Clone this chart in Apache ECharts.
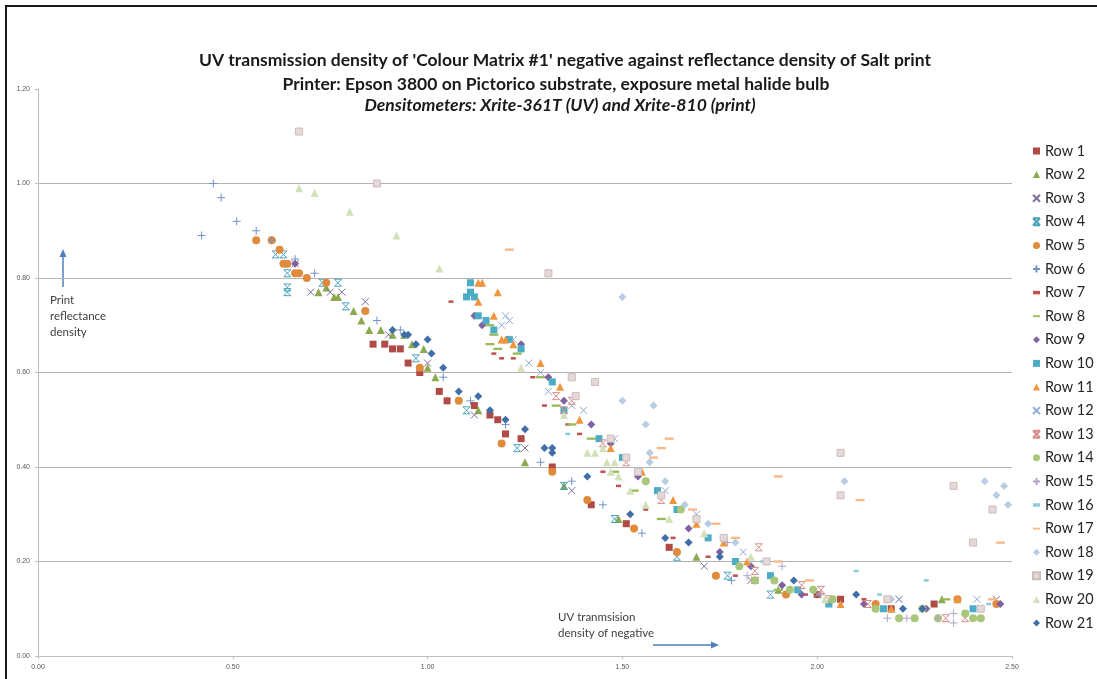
<!DOCTYPE html>
<html>
<head>
<meta charset="utf-8">
<script src="https://cdn.jsdelivr.net/npm/echarts@6/dist/echarts.min.js"></script>
<style>
  html, body { margin: 0; padding: 0; background: #fff; }
  #chart { width: 1097px; height: 679px; }
</style>
</head>
<body>
<div id="chart"></div>
<script>
// UV transmission density of the negative (x) vs. print reflectance density (y), one series per matrix row
const rowNames = ['Row 1','Row 2','Row 3','Row 4','Row 5','Row 6','Row 7','Row 8','Row 9','Row 10','Row 11',
  'Row 12','Row 13','Row 14','Row 15','Row 16','Row 17','Row 18','Row 19','Row 20','Row 21'];

const row1 = [[0.86,0.66],[0.89,0.66],[0.91,0.65],[0.93,0.65],[0.95,0.62],[0.98,0.60],[1.03,0.56],[1.05,0.54],[1.12,0.53],[1.16,0.51],[1.18,0.50],[1.20,0.47],[1.24,0.46],[1.32,0.40],[1.42,0.32],[1.51,0.28],[1.62,0.23],[1.84,0.16],[2.00,0.13],[2.06,0.12],[2.19,0.10],[2.30,0.11]];
const row2 = [[0.72,0.77],[0.74,0.78],[0.76,0.76],[0.77,0.76],[0.81,0.73],[0.83,0.71],[0.85,0.69],[0.88,0.69],[0.91,0.68],[0.94,0.68],[0.96,0.66],[0.99,0.65],[1.00,0.61],[1.02,0.59],[1.13,0.52],[1.25,0.41],[1.35,0.36],[1.49,0.29],[1.69,0.21],[1.90,0.14],[2.32,0.12]];
const row3 = [[0.66,0.83],[0.70,0.77],[0.75,0.77],[0.78,0.77],[0.84,0.75],[0.90,0.68],[1.00,0.62],[1.12,0.51],[1.25,0.44],[1.37,0.35],[1.71,0.19],[1.83,0.16],[2.21,0.12],[2.46,0.12]];
const row4 = [[0.61,0.85],[0.63,0.85],[0.64,0.81],[0.64,0.78],[0.64,0.77],[0.73,0.79],[0.77,0.79],[0.79,0.74],[0.97,0.63],[1.10,0.52],[1.23,0.44],[1.35,0.36],[1.48,0.29],[1.64,0.21],[1.77,0.17],[1.88,0.13]];
const row5 = [[0.56,0.88],[0.60,0.88],[0.62,0.86],[0.63,0.83],[0.64,0.83],[0.66,0.81],[0.67,0.81],[0.69,0.80],[0.74,0.79],[0.84,0.73],[0.98,0.61],[1.08,0.54],[1.19,0.45],[1.32,0.39],[1.41,0.33],[1.53,0.27],[1.64,0.22],[1.74,0.17],[1.92,0.13],[2.15,0.11],[2.36,0.12],[2.46,0.11]];
const row6 = [[0.42,0.89],[0.45,1.00],[0.47,0.97],[0.51,0.92],[0.56,0.90],[0.60,0.88],[0.66,0.84],[0.71,0.81],[0.87,0.71],[0.93,0.69],[1.04,0.59],[1.11,0.54],[1.20,0.49],[1.29,0.41],[1.37,0.37],[1.45,0.32],[1.55,0.26],[1.78,0.16],[1.99,0.14]];
const row7 = [[1.06,0.75],[1.17,0.64],[1.19,0.63],[1.22,0.63],[1.27,0.59],[1.30,0.53],[1.36,0.49],[1.39,0.47],[1.45,0.39],[1.49,0.36],[1.56,0.31],[1.63,0.25],[1.72,0.21],[1.79,0.17],[1.97,0.13],[2.12,0.12]];
const row8 = [[1.16,0.70],[1.17,0.68],[1.16,0.66],[1.18,0.65],[1.23,0.64],[1.29,0.59],[1.33,0.53],[1.37,0.49],[1.42,0.46],[1.48,0.39],[1.53,0.35],[1.60,0.29],[1.90,0.14],[2.33,0.12]];
const row9 = [[0.66,0.83],[1.12,0.72],[1.14,0.70],[1.24,0.66],[1.31,0.59],[1.35,0.54],[1.42,0.49],[1.47,0.45],[1.54,0.38],[1.67,0.27],[1.75,0.22],[1.83,0.19],[1.91,0.15],[1.96,0.13],[2.12,0.11],[2.28,0.10],[2.47,0.11]];
const row10 = [[1.11,0.79],[1.10,0.76],[1.12,0.76],[1.11,0.77],[1.13,0.72],[1.15,0.71],[1.17,0.69],[1.21,0.67],[1.24,0.65],[1.32,0.58],[1.35,0.52],[1.44,0.46],[1.50,0.42],[1.59,0.35],[1.64,0.31],[1.72,0.25],[1.79,0.20],[1.88,0.17],[1.95,0.14],[2.03,0.11],[2.17,0.10],[2.40,0.10]];
const row11 = [[1.13,0.79],[1.14,0.79],[1.13,0.75],[1.18,0.77],[1.17,0.72],[1.19,0.67],[1.20,0.67],[1.22,0.66],[1.29,0.62],[1.34,0.57],[1.39,0.50],[1.47,0.44],[1.55,0.39],[1.63,0.33],[1.69,0.28],[1.76,0.24],[1.82,0.20],[2.06,0.11],[2.19,0.10],[2.36,0.12]];
const row12 = [[1.20,0.72],[1.21,0.71],[1.19,0.70],[1.22,0.67],[1.26,0.62],[1.29,0.60],[1.31,0.56],[1.37,0.53],[1.40,0.52],[1.48,0.46],[1.61,0.35],[1.69,0.30],[1.81,0.22],[1.88,0.13],[2.00,0.13],[2.21,0.12],[2.41,0.12]];
const row13 = [[1.33,0.55],[1.37,0.54],[1.35,0.52],[1.45,0.45],[1.51,0.41],[1.60,0.33],[1.85,0.23],[1.84,0.18],[1.96,0.15],[2.01,0.14],[2.03,0.12],[2.13,0.11],[2.33,0.08],[2.38,0.08]];
const row14 = [[1.56,0.37],[1.65,0.31],[1.80,0.19],[1.84,0.16],[1.89,0.16],[1.93,0.14],[1.99,0.14],[2.04,0.12],[2.15,0.10],[2.21,0.08],[2.25,0.08],[2.27,0.10],[2.31,0.08],[2.38,0.09],[2.40,0.08],[2.42,0.08]];
const row15 = [[1.77,0.24],[1.82,0.17],[1.91,0.19],[2.01,0.13],[2.18,0.08],[2.23,0.08],[2.31,0.08],[2.35,0.09],[2.35,0.07]];
const row16 = [[1.36,0.47],[1.86,0.20],[2.10,0.18],[2.16,0.13],[2.28,0.16],[2.44,0.11]];
const row17 = [[1.21,0.86],[1.58,0.42],[1.60,0.44],[1.62,0.46],[1.68,0.31],[1.74,0.28],[1.79,0.25],[1.90,0.38],[1.90,0.20],[1.98,0.16],[2.11,0.33],[2.47,0.24],[2.45,0.12]];
const row18 = [[1.50,0.76],[1.50,0.54],[1.58,0.53],[1.56,0.49],[1.57,0.43],[1.57,0.41],[1.61,0.37],[1.66,0.32],[1.72,0.28],[1.79,0.24],[2.07,0.37],[2.43,0.37],[2.48,0.36],[2.46,0.34],[2.49,0.32],[2.19,0.12]];
const row19 = [[0.67,1.11],[0.87,1.00],[1.31,0.81],[1.37,0.59],[1.43,0.58],[1.38,0.55],[1.47,0.46],[1.51,0.42],[1.54,0.39],[1.60,0.34],[1.69,0.29],[1.76,0.25],[1.87,0.20],[2.06,0.43],[2.06,0.34],[2.18,0.12],[2.35,0.36],[2.40,0.24],[2.45,0.31],[2.42,0.10]];
const row20 = [[0.67,0.99],[0.71,0.98],[0.80,0.94],[0.92,0.89],[1.03,0.82],[1.24,0.61],[1.35,0.51],[1.41,0.43],[1.43,0.43],[1.45,0.44],[1.46,0.41],[1.48,0.41],[1.47,0.39],[1.49,0.38],[1.52,0.35],[1.56,0.32],[1.62,0.29],[1.71,0.26],[1.83,0.21],[2.02,0.12]];
const row21 = [[0.91,0.69],[0.94,0.68],[0.95,0.68],[0.97,0.66],[1.00,0.67],[1.01,0.64],[1.04,0.61],[1.08,0.56],[1.13,0.55],[1.16,0.52],[1.20,0.50],[1.25,0.48],[1.30,0.44],[1.32,0.44],[1.32,0.43],[1.41,0.38],[1.52,0.30],[1.61,0.25],[1.67,0.24],[1.75,0.21],[1.94,0.16],[2.10,0.13],[2.22,0.10],[2.27,0.10]];

const rows = [row1,row2,row3,row4,row5,row6,row7,row8,row9,row10,row11,row12,row13,row14,row15,row16,row17,row18,row19,row20,row21];

// axis ranges: [min, max, interval]
const xRange = [0, 2.5, 0.5];
const yRange = [0, 1.2, 0.2];

// marker shapes (stroked ones use a border, filled ones use the fill)
const SYM = {
  rect: 'rect', tri: 'triangle', circle: 'circle', diamond: 'diamond',
  x: 'path://M0,0L10,10M10,0L0,10',
  star: 'path://M0,0L10,0M0,10L10,10M0,0L10,10M10,0L0,10',
  plus: 'path://M5,0L5,10M0,5L10,5',
  dash: 'path://M0,0L10,0L10,5L0,5Z',
  longDash: 'path://M0,0L10,0L10,2.6L0,2.6Z'
};
const STYLE = [
  {s:'rect', c:'#B04A45', z:7},
  {s:'tri', c:'#8BAA4E', z:8},
  {s:'x', c:'#7D6E9C', z:7, line:true},
  {s:'star', c:'#47A3BC', z:7, line:true},
  {s:'circle', c:'#E08A3C', z:8},
  {s:'plus', c:'#7292C8', z:8, line:true},
  {s:'dash', c:'#C0504D', z:5},
  {s:'longDash', c:'#9BBB59', z:9},
  {s:'diamond', c:'#7E62A1', z:8},
  {s:'rect', c:'#4BACC6', z:7},
  {s:'tri', c:'#F0953F', z:8},
  {s:'x', c:'#8EAAD8', z:7, line:true},
  {s:'star', c:'#D98C8A', z:7, line:true},
  {s:'circle', c:'#A9C77A', z:8},
  {s:'plus', c:'#B2A4C8', z:8, line:true},
  {s:'dash', c:'#8ECBDB', z:5},
  {s:'longDash', c:'#F8B888', z:9},
  {s:'diamond', c:'#B8CCE4', z:8},
  {s:'rect', c:'#E5D8D8', z:7, border:'#CDBDBD'},
  {s:'tri', c:'#D3E1B8', z:8},
  {s:'diamond', c:'#3F6EA8', z:8}
];

const series = rows.map((data, i) => {
  const st = STYLE[i];
  const itemStyle = { color: st.c, opacity: 1 };
  if (st.line) { itemStyle.borderColor = st.c; itemStyle.borderWidth = 1; }
  if (st.border) { itemStyle.borderColor = st.border; itemStyle.borderWidth = 1; }
  return {
    name: rowNames[i],
    type: 'scatter',
    data: data,
    symbol: SYM[st.s],
    symbolSize: st.z,
    symbolKeepAspect: true,
    itemStyle: itemStyle,
    emphasis: { disabled: true }
  };
});

const blue = '#4F81BD';
const chart = echarts.init(document.getElementById('chart'), null, { renderer: 'canvas' });
chart.setOption({
  animation: false,
  backgroundColor: '#fff',
  grid: { left: 38, right: 85, top: 89, bottom: 23 },
  xAxis: {
    type: 'value', min: xRange[0], max: xRange[1], interval: xRange[2],
    axisLine: { lineStyle: { color: '#BFBFBF', width: 1 } },
    axisTick: { show: true, length: 3, lineStyle: { color: '#BFBFBF' } },
    axisLabel: { fontSize: 7, color: '#595959', fontFamily: 'Liberation Sans', margin: 8, formatter: v => v.toFixed(2) },
    splitLine: { show: false }
  },
  yAxis: {
    type: 'value', min: yRange[0], max: yRange[1], interval: yRange[2],
    axisLine: { show: true, lineStyle: { color: '#BFBFBF', width: 1 } },
    axisTick: { show: true, length: 3, lineStyle: { color: '#BFBFBF' } },
    axisLabel: { fontSize: 7, color: '#595959', fontFamily: 'Liberation Sans', margin: 8, formatter: v => v.toFixed(2) },
    splitLine: { show: true, showMinLine: false, showMaxLine: false, lineStyle: { color: '#B3B3B3', width: 1 } }
  },
  legend: {
    orient: 'vertical', left: 1027, top: 138,
    itemWidth: 7, itemHeight: 7, itemGap: 7.6,
    textStyle: { fontFamily: 'Lato', fontSize: 14.5, color: '#262626', lineHeight: 16 },
    data: rowNames
  },
  series: series,
  graphic: [
    // frame around the chart
    { type: 'rect', shape: { x: 6, y: 6, width: 1200, height: 800 }, style: { fill: 'none', stroke: '#1a1a1a', lineWidth: 2 }, silent: true },
    // titles
    { type: 'text', x: 565, y: 60, style: { text: "UV transmission density of 'Colour Matrix #1' negative against reflectance density of Salt print", font: 'bold 17.5px Lato', fill: '#1a1a1a', textAlign: 'center', textVerticalAlign: 'middle' } },
    { type: 'text', x: 556, y: 84, style: { text: 'Printer: Epson 3800 on Pictorico substrate, exposure metal halide bulb', font: 'bold 17.5px Lato', fill: '#1a1a1a', textAlign: 'center', textVerticalAlign: 'middle' } },
    { type: 'text', x: 560, y: 105, style: { text: 'Densitometers: Xrite-361T (UV) and Xrite-810 (print)', font: 'italic bold 17.5px Lato', fill: '#1a1a1a', textAlign: 'center', textVerticalAlign: 'middle' } },
    // y-direction note
    { type: 'line', shape: { x1: 63, y1: 287, x2: 63, y2: 255 }, style: { stroke: blue, lineWidth: 1.5 } },
    { type: 'polygon', shape: { points: [[63, 249], [59.5, 257], [66.5, 257]] }, style: { fill: blue } },
    { type: 'text', x: 50, y: 292, style: { text: 'Print\nreflectance\ndensity', font: '11.5px Lato', lineHeight: 16, fill: '#404040', textVerticalAlign: 'top' } },
    // x-direction note
    { type: 'text', x: 558, y: 609, style: { text: 'UV tranmsision\ndensity of negative', font: '11.5px Lato', lineHeight: 16, fill: '#404040', textVerticalAlign: 'top' } },
    { type: 'line', shape: { x1: 653, y1: 645, x2: 713, y2: 645 }, style: { stroke: blue, lineWidth: 1.5 } },
    { type: 'polygon', shape: { points: [[719, 645], [711, 641.5], [711, 648.5]] }, style: { fill: blue } }
  ]
});
</script>
</body>
</html>
